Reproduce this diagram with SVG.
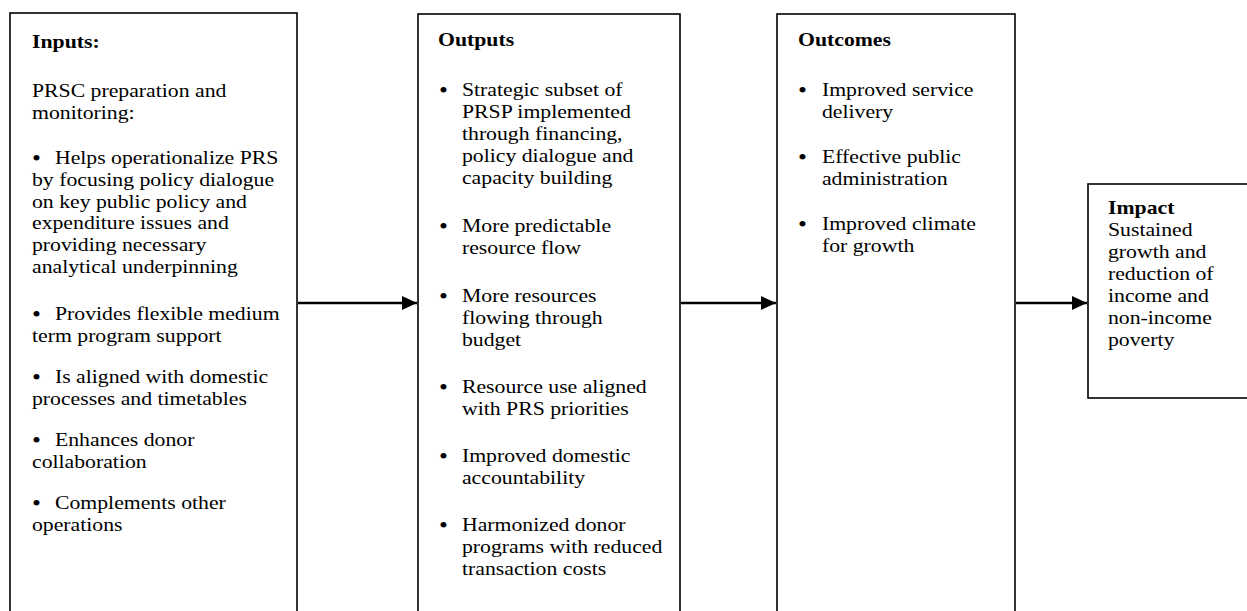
<svg xmlns="http://www.w3.org/2000/svg" width="1247" height="611" viewBox="0 0 1247 611">
<style>
.box{fill:#fff;stroke:#000;stroke-width:1.6}
text{font-family:"Liberation Serif","Times New Roman",serif;font-size:19.6px;fill:#000}
.h{font-weight:bold}
.b{font-size:23px;baseline-shift:-2px}
.con{stroke:#000;stroke-width:2.6;fill:none}
</style>
<defs>
<marker id="ah" markerWidth="15" markerHeight="15" viewBox="0 0 15 15" refX="15" refY="7.5" orient="auto" markerUnits="userSpaceOnUse">
<path d="M0,0.5 L15,7.5 L0,14.5 Z" fill="#000"/>
</marker>
</defs>
<rect width="1247" height="611" fill="#fff"/>

<g id="inputs">
<rect class="box" x="10" y="13" width="287" height="620"/>
<g transform="matrix(1.11 0 0 1 -3.52 0)">
<text class="h" x="32" y="48">Inputs:</text>
<text x="32" y="97">PRSC preparation and<tspan x="32" dy="21.8">monitoring:</tspan></text>
<text x="32" y="164"><tspan class="b">•</tspan><tspan x="52.7">Helps operationalize PRS</tspan><tspan x="32" dy="21.8">by focusing policy dialogue</tspan><tspan x="32" dy="21.8">on key public policy and</tspan><tspan x="32" dy="21.8">expenditure issues and</tspan><tspan x="32" dy="21.8">providing necessary</tspan><tspan x="32" dy="21.8">analytical underpinning</tspan></text>
<text x="32" y="320"><tspan class="b">•</tspan><tspan x="52.7">Provides flexible medium</tspan><tspan x="32" dy="21.8">term program support</tspan></text>
<text x="32" y="383"><tspan class="b">•</tspan><tspan x="52.7">Is aligned with domestic</tspan><tspan x="32" dy="21.8">processes and timetables</tspan></text>
<text x="32" y="446"><tspan class="b">•</tspan><tspan x="52.7">Enhances donor</tspan><tspan x="32" dy="21.8">collaboration</tspan></text>
<text x="32" y="509"><tspan class="b">•</tspan><tspan x="52.7">Complements other</tspan><tspan x="32" dy="21.8">operations</tspan></text>
</g>
</g>

<g id="outputs">
<rect class="box" x="418" y="14" width="262" height="620"/>
<g transform="matrix(1.11 0 0 1 -48.29 0)">
<text class="h" x="438.1" y="46">Outputs</text>
<text x="439" y="96"><tspan class="b">•</tspan><tspan x="459.7">Strategic subset of</tspan><tspan x="459.7" dy="22">PRSP implemented</tspan><tspan x="459.7" dy="22">through financing,</tspan><tspan x="459.7" dy="22">policy dialogue and</tspan><tspan x="459.7" dy="22">capacity building</tspan></text>
<text x="439" y="232"><tspan class="b">•</tspan><tspan x="459.7">More predictable</tspan><tspan x="459.7" dy="22">resource flow</tspan></text>
<text x="439" y="302"><tspan class="b">•</tspan><tspan x="459.7">More resources</tspan><tspan x="459.7" dy="22">flowing through</tspan><tspan x="459.7" dy="22">budget</tspan></text>
<text x="439" y="393"><tspan class="b">•</tspan><tspan x="459.7">Resource use aligned</tspan><tspan x="459.7" dy="22">with PRS priorities</tspan></text>
<text x="439" y="462"><tspan class="b">•</tspan><tspan x="459.7">Improved domestic</tspan><tspan x="459.7" dy="22">accountability</tspan></text>
<text x="439" y="531"><tspan class="b">•</tspan><tspan x="459.7">Harmonized donor</tspan><tspan x="459.7" dy="22">programs with reduced</tspan><tspan x="459.7" dy="22">transaction costs</tspan></text>
</g>
</g>

<g id="outcomes">
<rect class="box" x="777" y="14" width="238" height="620"/>
<g transform="matrix(1.11 0 0 1 -87.78 0)">
<text class="h" x="798" y="46">Outcomes</text>
<text x="798" y="96"><tspan class="b">•</tspan><tspan x="819.6">Improved service</tspan><tspan x="819.6" dy="22">delivery</tspan></text>
<text x="798" y="163"><tspan class="b">•</tspan><tspan x="819.6">Effective public</tspan><tspan x="819.6" dy="22">administration</tspan></text>
<text x="798" y="230"><tspan class="b">•</tspan><tspan x="819.6">Improved climate</tspan><tspan x="819.6" dy="22">for growth</tspan></text>
</g>
</g>

<g id="impact">
<rect class="box" x="1088" y="184" width="170" height="214"/>
<g transform="matrix(1.11 0 0 1 -121.88 0)">
<text x="1108" y="214"><tspan class="h">Impact</tspan><tspan x="1108" dy="22">Sustained</tspan><tspan x="1108" dy="22">growth and</tspan><tspan x="1108" dy="22">reduction of</tspan><tspan x="1108" dy="22">income and</tspan><tspan x="1108" dy="22">non-income</tspan><tspan x="1108" dy="22">poverty</tspan></text>
</g>
</g>

<g id="connectors">
<line class="con" x1="298" y1="303" x2="417" y2="303" marker-end="url(#ah)"/>
<line class="con" x1="681" y1="303" x2="776" y2="303" marker-end="url(#ah)"/>
<line class="con" x1="1016" y1="303" x2="1087" y2="303" marker-end="url(#ah)"/>
</g>
</svg>
